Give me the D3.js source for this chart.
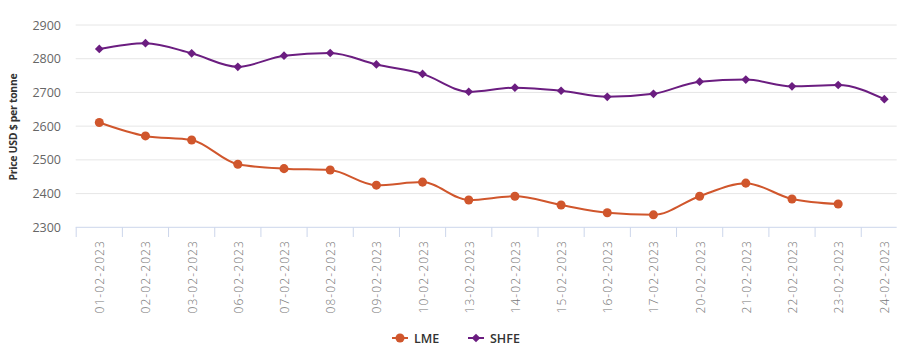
<!DOCTYPE html>
<html><head><meta charset="utf-8">
<script src="https://cdn.jsdelivr.net/npm/d3@7"></script>
<style>
body{margin:0;background:#fff;}
svg{display:block;font-family:"Open Sans","DejaVu Sans",sans-serif;}
</style></head>
<body><svg id="c" width="906" height="355"></svg>
<script>
const categories = ["01-02-2023","02-02-2023","03-02-2023","06-02-2023","07-02-2023","08-02-2023","09-02-2023","10-02-2023","13-02-2023","14-02-2023","15-02-2023","16-02-2023","17-02-2023","20-02-2023","21-02-2023","22-02-2023","23-02-2023","24-02-2023"];
const lmeValues = [2611,2571,2559,2487,2474,2470,2425,2434,2381,2392,2366,2343,2337,2392,2431,2384,2369,null];
const shfeValues = [2829,2846,2816,2776,2809,2817,2783,2755,2702,2714,2705,2687,2696,2732,2738,2718,2722,2680];
const yTicks = [2300,2400,2500,2600,2700,2800,2900];
const seriesNames = ["LME","SHFE"];
const colors = {LME:"#d0562c", SHFE:"#6b1d80"};

const svg = d3.select("#c");
const left = 76.2, bw = 46.18, gridRight = 896.7;
const x = d3.scaleBand().domain(categories).range([left, left + bw*categories.length]).paddingInner(0).paddingOuter(0);
const y = d3.scaleLinear().domain([2300,2900]).range([227.3,25]);

// gridlines
svg.append("g").selectAll("line").data(yTicks.filter(d=>d>2300)).join("line")
  .attr("x1",75.7).attr("x2",gridRight).attr("y1",d=>y(d)).attr("y2",d=>y(d))
  .attr("stroke","#e6e6e6").attr("stroke-width",1);

// y labels
svg.append("g").selectAll("text").data(yTicks).join("text")
  .attr("x",61).attr("y",d=>y(d)+4.5).attr("text-anchor","end")
  .attr("font-size",12.5).attr("fill","#666").text(d=>d);

// y title
svg.append("text").attr("transform","translate(17,127) rotate(-90)")
  .attr("text-anchor","middle").attr("font-size",10.5).attr("font-weight","bold")
  .attr("letter-spacing","-0.3px")
  .attr("fill","#333").text("Price USD $ per tonne");

// x axis line
svg.append("line").attr("x1",75.7).attr("x2",gridRight).attr("y1",227.3).attr("y2",227.3)
  .attr("stroke","#ccd6eb").attr("stroke-width",1);
// x ticks at band edges
svg.append("g").selectAll("line").data(categories).join("line")
  .attr("x1",d=>x(d)).attr("x2",d=>x(d)).attr("y1",227.3).attr("y2",237)
  .attr("stroke","#ccd6eb").attr("stroke-width",1);
// x labels
svg.append("g").selectAll("text").data(categories).join("text")
  .attr("transform",d=>`translate(${x(d)+bw/2+5},240) rotate(-90)`)
  .attr("text-anchor","end").attr("font-size",12).attr("fill","#777")
  .attr("letter-spacing","1.1px").attr("font-weight","300").text(d=>d);

const cx = i => x(categories[i]) + bw/2;

function markerPath(kind){
  return kind==="circle" ? d3.symbol().type(d3.symbolCircle).size(64)()
                         : d3.symbol().type(d3.symbolSquare).size(38)();
}
function markerTransform(kind, px, py){
  return kind==="circle" ? `translate(${px},${py})` : `translate(${px},${py}) rotate(45)`;
}

function drawSeries(vals, color, kind){
  const pts = vals.map((v,i)=>({i,v})).filter(p=>p.v!=null);
  const line = d3.line().x(p=>cx(p.i)).y(p=>y(p.v)).curve(d3.curveMonotoneX);
  svg.append("path").attr("d",line(pts)).attr("fill","none").attr("stroke",color).attr("stroke-width",2);
  svg.append("g").selectAll("path").data(pts).join("path")
    .attr("transform",p=>markerTransform(kind,cx(p.i),y(p.v)))
    .attr("d",markerPath(kind)).attr("fill",color);
}
drawSeries(lmeValues, colors.LME, "circle");
drawSeries(shfeValues, colors.SHFE, "diamond");

// legend
const leg = svg.append("g");
const legItems = [{n:"LME",x:392,k:"circle"},{n:"SHFE",x:468,k:"diamond"}];
legItems.forEach(it=>{
  leg.append("line").attr("x1",it.x).attr("x2",it.x+16).attr("y1",338).attr("y2",338)
    .attr("stroke",colors[it.n]).attr("stroke-width",2);
  leg.append("path").attr("transform",markerTransform(it.k,it.x+8,338)).attr("d",markerPath(it.k))
    .attr("fill",colors[it.n]);
  leg.append("text").attr("x",it.x+22).attr("y",342.5).attr("font-size",12.5)
    .attr("fill","#333").attr("font-weight","600").text(it.n);
});
</script></body></html>
